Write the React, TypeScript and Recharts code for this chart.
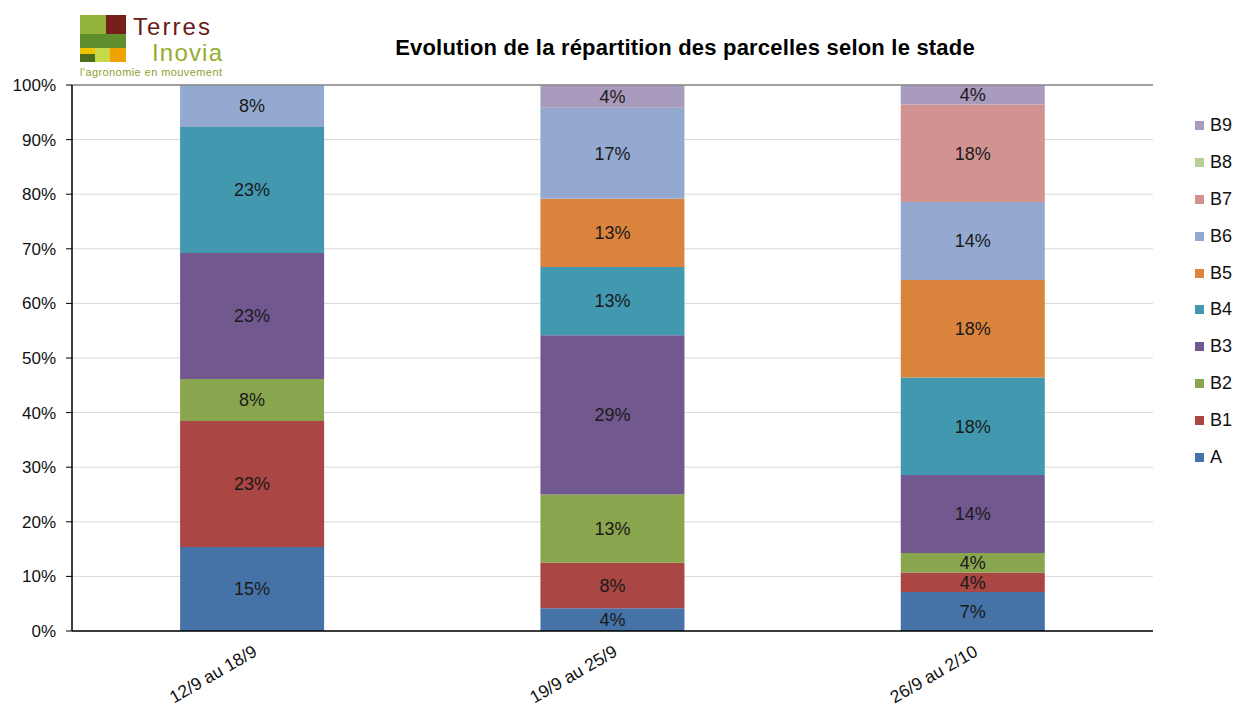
import { BarChart, Bar, XAxis, YAxis, CartesianGrid, Legend, LabelList, ReferenceLine } from 'recharts'

const categories = ['12/9 au 18/9', '19/9 au 25/9', '26/9 au 2/10']
const stades = ['A', 'B1', 'B2', 'B3', 'B4', 'B5', 'B6', 'B7', 'B8', 'B9']

// part des parcelles (%) par stade, une valeur par période
const serieA = [15.38, 4.17, 7.14]
const serieB1 = [23.08, 8.33, 3.57]
const serieB2 = [7.69, 12.5, 3.57]
const serieB3 = [23.08, 29.17, 14.29]
const serieB4 = [23.08, 12.5, 17.86]
const serieB5 = [0, 12.5, 17.86]
const serieB6 = [7.69, 16.67, 14.29]
const serieB7 = [0, 0, 17.86]
const serieB8 = [0, 0, 0]
const serieB9 = [0, 4.17, 3.57]

const yTicks = [0, 10, 20, 30, 40, 50, 60, 70, 80, 90, 100]
const boundaries = [0, 1, 2, 3]

const series = [serieA, serieB1, serieB2, serieB3, serieB4, serieB5, serieB6, serieB7, serieB8, serieB9]
const colors = ['#4572A7', '#AA4643', '#89A54E', '#71588F', '#4198AF', '#DB843D', '#93A9CF', '#D19392', '#B9CD96', '#A99BBD']

const data = categories.map((c, i) => {
  const row: Record<string, string | number> = { periode: c }
  stades.forEach((s, k) => { row[s] = series[k][i] })
  return row
})

const FONT = 'Arial, "Liberation Sans", sans-serif'

function pct(v: any) {
  const n = Number(v)
  if (!n) return ''
  return `${Math.round(n)}%`
}

function PeriodTick(props: any) {
  const { x, y, payload } = props
  return (
    <g transform={`translate(${x + 6},${y + 16})`}>
      <text textAnchor="end" transform="rotate(-30)" fontSize={17.5} fill="#111" fontFamily={FONT}>
        {payload.value}
      </text>
    </g>
  )
}

function StadeLegend(props: any) {
  const items = [...(props.payload || [])].reverse()
  return (
    <div style={{ fontFamily: FONT, fontSize: 18, color: '#111' }}>
      {items.map((it: any) => (
        <div key={it.value} style={{ height: 36.9, display: 'flex', alignItems: 'center' }}>
          <span style={{ width: 9, height: 9, background: it.color, display: 'inline-block', marginRight: 6 }} />
          {it.value}
        </div>
      ))}
    </div>
  )
}

function Logo() {
  return (
    <svg width={160} height={82} style={{ position: 'absolute', left: 76, top: 0 }}>
      <g transform="translate(4,15)">
        <rect x={0} y={0} width={26} height={19} fill="#93B33A" />
        <rect x={26} y={0} width={20} height={19} fill="#761E1A" />
        <rect x={0} y={19} width={46} height={14} fill="#5F8E2C" />
        <rect x={0} y={33} width={15} height={6} fill="#F2C400" />
        <rect x={0} y={39} width={15} height={8} fill="#4D6E1F" />
        <rect x={15} y={33} width={15} height={14} fill="#C9D84A" />
        <rect x={30} y={33} width={16} height={14} fill="#F0A200" />
      </g>
      <text x={57} y={35} fontSize={24} fill="#6B1B18" fontFamily={FONT} textLength={77}>Terres</text>
      <text x={76} y={61} fontSize={24} fill="#93AE2E" fontFamily={FONT} textLength={70}>Inovia</text>
      <text x={4} y={76} fontSize={11} fill="#8AA232" fontFamily={FONT} textLength={142}>l'agronomie en mouvement</text>
    </svg>
  )
}

export default function App() {
  return (
    <div style={{ position: 'absolute', left: 0, top: 0, width: 1235, height: 706, background: '#fff' }}>
      <Logo />
      <div
        style={{
          position: 'absolute', left: 0, width: 1370, top: 35, textAlign: 'center',
          fontFamily: FONT, fontWeight: 'bold', fontSize: 22, letterSpacing: 0.2, color: '#000',
        }}
      >
        Evolution de la répartition des parcelles selon le stade
      </div>
      <BarChart
        width={1235}
        height={706}
        data={data}
        margin={{ top: 85, right: 42, bottom: 0, left: 0 }}
        barCategoryGap="30%"
      >
        <CartesianGrid vertical={false} stroke="#d9d9d9" />
        <XAxis
          xAxisId="bornes"
          type="number"
          domain={[0, 3]}
          ticks={boundaries}
          height={0}
          axisLine={false}
          tickSize={6}
          tickLine={{ stroke: '#000' }}
          tick={() => <g />}
        />
        <XAxis
          dataKey="periode"
          height={75}
          axisLine={{ stroke: '#000', strokeWidth: 1.5 }}
          tickLine={false}
          tick={<PeriodTick />}
          interval={0}
        />
        <YAxis
          width={72}
          domain={[0, 100]}
          ticks={yTicks}
          allowDataOverflow
          tickFormatter={v => `${v}%`}
          axisLine={{ stroke: '#000', strokeWidth: 1.5 }}
          tickLine={{ stroke: '#000' }}
          tickSize={6}
          tickMargin={10}
          tick={{ fontSize: 17, fill: '#111', fontFamily: FONT }}
        />
        <YAxis
          yAxisId="bord"
          orientation="right"
          width={0}
          domain={[0, 100]}
          tick={false}
          axisLine={{ stroke: '#888', strokeWidth: 1.5 }}
        />
        <ReferenceLine y={100} stroke="#888" strokeWidth={1.5} />
        {stades.map((s, k) => (
          <Bar key={s} dataKey={s} stackId="stade" fill={colors[k]} isAnimationActive={false}>
            <LabelList
              dataKey={s}
              position="center"
              formatter={pct}
              fill="#1a1a1a"
              fontSize={18}
              fontFamily={FONT}
            />
          </Bar>
        ))}
        <Legend
          layout="vertical"
          align="right"
          verticalAlign="top"
          content={<StadeLegend />}
          wrapperStyle={{ left: 1195, top: 107, width: 40 }}
        />
      </BarChart>
    </div>
  )
}
